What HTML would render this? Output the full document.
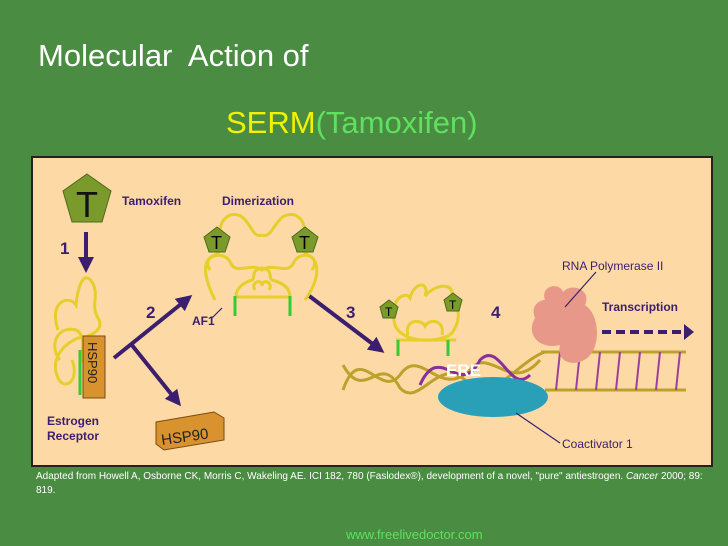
<!DOCTYPE html>
<html><head><meta charset="utf-8"><style>
body{margin:0;width:728px;height:546px;background:#4a8c42;overflow:hidden;font-family:"Liberation Sans",sans-serif;position:relative}
.t{position:absolute;white-space:nowrap}
</style></head><body>
<div class="t" style="left:38px;top:38px;font-size:31px;color:#fff">Molecular&nbsp; Action of</div>
<div class="t" style="left:226px;top:105px;font-size:31px;color:#f2f200">SERM<span style="color:#5fe05f">(Tamoxifen)</span></div>
<svg width="728" height="546" style="position:absolute;left:0;top:0">
<defs><marker id="a" markerWidth="4" markerHeight="4" refX="2" refY="2" orient="auto" markerUnits="strokeWidth"><path d="M0,0L4,2L0,4Z" fill="#3b1f6e"/></marker></defs>
<rect x="32" y="157" width="680" height="309" fill="#fdd9a6" stroke="#222" stroke-width="2"/>
<!-- tamoxifen -->
<polygon points="87,174 111,191 102,222 72,222 63,191" fill="#7a9a2c" stroke="#4f6a18"/>
<text x="87" y="217" font-size="36" text-anchor="middle" fill="#111" font-family="Liberation Sans">T</text>
<g font-family="Liberation Sans" font-weight="bold" fill="#3b1f6e" font-size="12">
<text x="122" y="205">Tamoxifen</text><text x="222" y="205">Dimerization</text>
<text x="47" y="425">Estrogen</text><text x="47" y="440">Receptor</text>
<text x="192" y="325">AF1</text>
<text x="602" y="311">Transcription</text>
</g>
<g font-family="Liberation Sans" font-weight="bold" fill="#3b1f6e" font-size="17">
<text x="60" y="254">1</text><text x="146" y="318">2</text><text x="346" y="318">3</text><text x="491" y="318">4</text>
</g>
<g stroke="#3b1f6e" stroke-width="4" fill="none">
<line x1="86" y1="232" x2="86" y2="265" marker-end="url(#a)"/>
<line x1="114" y1="358" x2="186" y2="300" marker-end="url(#a)"/>
<line x1="131" y1="344" x2="176" y2="400" marker-end="url(#a)"/>
<line x1="308" y1="295" x2="378" y2="348" marker-end="url(#a)"/>
<line x1="602" y1="332" x2="684" y2="332" stroke-dasharray="9,5"/>
</g>
<path d="M684,324L694,332L684,340Z" fill="#3b1f6e"/>
<!-- receptor -->
<g stroke="#e6cf2a" stroke-width="3" fill="none">
<path d="M58,330C48,300 70,295 76,305C78,285 84,270 92,282C100,295 90,305 98,318C106,330 88,338 78,338C62,345 50,360 58,378C65,392 80,380 72,360"/>
<path d="M60,360C48,345 58,325 76,330C92,338 72,368 90,362"/>
<!-- dimer -->
<path d="M215,300C205,280 200,260 215,255C228,250 210,225 230,215C250,210 250,240 262,235M262,235C274,240 275,210 295,215C315,225 295,250 308,255C322,262 318,282 305,300"/>
<path d="M210,270C200,255 225,250 230,262C236,276 250,262 262,270C274,262 288,276 294,262C300,250 322,255 312,270"/>
<path d="M236,297C236,286 246,282 252,280C256,278 250,270 262,268C274,270 268,278 272,280C280,282 290,286 290,297M236,297L290,297"/>
<path d="M255,290C250,282 262,278 262,286C262,278 274,282 269,290"/>
<!-- complex 2 -->
<path d="M395,325C388,300 405,290 410,298C415,280 430,282 425,296C440,280 458,285 450,300C462,305 460,325 450,335M395,325C400,340 430,345 450,335"/>
<path d="M408,335C404,320 420,318 425,326C430,318 445,320 442,335M396,340L456,340"/>
</g>
<line x1="235" y1="296" x2="235" y2="316" stroke="#33cc33" stroke-width="3"/>
<line x1="290" y1="296" x2="290" y2="316" stroke="#33cc33" stroke-width="3"/>
<line x1="398" y1="340" x2="398" y2="356" stroke="#33cc33" stroke-width="3"/>
<line x1="448" y1="340" x2="448" y2="356" stroke="#33cc33" stroke-width="3"/>
<rect x="83" y="336" width="22" height="62" fill="#d8932e" stroke="#7a4a10"/>
<text x="88" y="342" font-size="13" fill="#222" transform="rotate(90 88 342)" font-family="Liberation Sans">HSP90</text>
<line x1="80" y1="350" x2="80" y2="395" stroke="#33cc33" stroke-width="3"/>
<polygon points="217,227 230,237 225,252 209,252 204,237" fill="#7a9a2c" stroke="#4f6a18"/>
<polygon points="305,227 318,237 313,252 297,252 292,237" fill="#7a9a2c" stroke="#4f6a18"/>
<text x="211" y="249" font-size="18" font-family="Liberation Sans">T</text>
<text x="299" y="249" font-size="18" font-family="Liberation Sans">T</text>
<polygon points="389,300 398,307 395,318 383,318 380,307" fill="#7a9a2c" stroke="#4f6a18"/>
<polygon points="453,293 462,300 459,311 447,311 444,300" fill="#7a9a2c" stroke="#4f6a18"/>
<text x="385" y="316" font-size="12" font-family="Liberation Sans">T</text>
<text x="449" y="309" font-size="12" font-family="Liberation Sans">T</text>
<!-- HSP90 box -->
<polygon points="156,422 214,412 224,418 224,440 164,450 156,444" fill="#d8932e" stroke="#7a4a10"/>
<text x="162" y="445" font-size="15" fill="#222" font-family="Liberation Sans" transform="rotate(-8 162 445)">HSP90</text>
<!-- DNA -->
<g stroke="#bca22a" stroke-width="3" fill="none">
<path d="M343,390C360,340 380,400 400,375C420,345 440,400 470,370C490,345 510,395 540,360"/>
<path d="M343,365C365,405 380,350 400,388C420,410 440,350 470,385C490,405 520,360 545,352"/>
<line x1="541" y1="352" x2="686" y2="352"/><line x1="545" y1="390" x2="686" y2="390"/>
</g>
<g stroke="#9b3fa0" stroke-width="2">
<line x1="560" y1="352" x2="556" y2="390"/><line x1="580" y1="352" x2="576" y2="390"/><line x1="600" y1="352" x2="596" y2="390"/><line x1="620" y1="352" x2="616" y2="390"/><line x1="640" y1="352" x2="636" y2="390"/><line x1="660" y1="352" x2="656" y2="390"/><line x1="680" y1="352" x2="676" y2="390"/>
</g>
<path d="M420,385C440,340 460,400 480,360C500,340 510,395 530,375" stroke="#8a2f9a" stroke-width="3" fill="none"/>
<ellipse cx="493" cy="397" rx="55" ry="20" fill="#2aa0b8"/>
<text x="446" y="376" font-size="17" fill="#fff" font-family="Liberation Sans" font-weight="bold">ERE</text>
<path d="M545,300C540,285 560,282 563,292C572,282 592,290 585,305C600,315 600,345 590,355C580,368 555,365 560,345C540,350 525,335 535,318C530,305 540,300 545,300Z" fill="#e89888"/>
<g stroke="#3b1f6e" stroke-width="1.2"><line x1="596" y1="272" x2="565" y2="307"/><line x1="516" y1="413" x2="560" y2="443"/><line x1="212" y1="318" x2="222" y2="308"/></g>
<g font-family="Liberation Sans" fill="#3b1f6e" font-size="12">
<text x="562" y="270">RNA Polymerase II</text><text x="562" y="448">Coactivator 1</text>
</g>
</svg>
<div class="t" style="left:36px;top:470px;font-size:10px;color:#fff;line-height:14px;white-space:normal;width:670px">Adapted from Howell A, Osborne CK, Morris C, Wakeling AE. ICI 182, 780 (Faslodex®), development of a novel, "pure" antiestrogen. <i>Cancer</i> 2000; 89: 819.</div>
<div class="t" style="left:346px;top:527px;font-size:13px;color:#5fe05f">www.freelivedoctor.com</div>
</body></html>
